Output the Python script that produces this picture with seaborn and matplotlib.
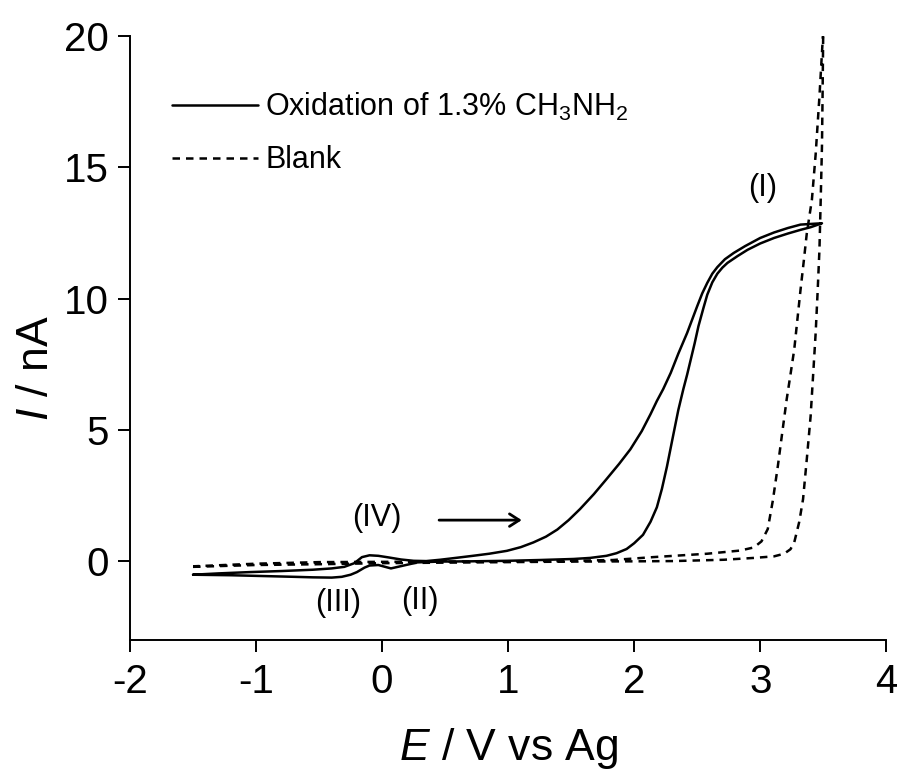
import matplotlib
matplotlib.use("Agg")
import matplotlib.pyplot as plt
from matplotlib import font_manager
import seaborn as sns

# CV of 1.3% CH3NH2, forward scan from -1.5 V then back
cv_E = [-1.50, -1.30, -1.05, -0.80, -0.55, -0.40, -0.30, -0.22, -0.16, -0.10,
        -0.03, 0.05, 0.15, 0.25, 0.35, 0.46, 0.60, 0.72, 0.85, 0.99,
        1.10, 1.20, 1.30, 1.39, 1.48, 1.57, 1.68, 1.78, 1.88, 1.97,
        2.06, 2.13, 2.18, 2.23, 2.29, 2.35, 2.42, 2.46, 2.50, 2.54,
        2.58, 2.62, 2.66, 2.72, 2.79, 2.88, 3.00, 3.11, 3.22, 3.32,
        3.42, 3.49,
        3.40, 3.32, 3.22, 3.11, 3.00, 2.90, 2.82, 2.74, 2.70, 2.66,
        2.62, 2.58, 2.55, 2.51, 2.48, 2.45, 2.42, 2.39, 2.35, 2.31,
        2.26, 2.22, 2.18, 2.13, 2.07, 2.00, 1.94, 1.86, 1.78, 1.65,
        1.52, 1.25, 0.99, 0.70, 0.45, 0.28, 0.18, 0.07, -0.03, -0.10,
        -0.14, -0.20, -0.25, -0.32, -0.40, -0.55, -0.70, -0.95, -1.20, -1.50]
cv_I = [-0.52, -0.47, -0.42, -0.38, -0.33, -0.28, -0.22, -0.08, 0.15, 0.22,
        0.20, 0.14, 0.06, 0.01, 0.00, 0.05, 0.13, 0.20, 0.28, 0.39,
        0.53, 0.71, 0.93, 1.20, 1.56, 1.98, 2.55, 3.12, 3.70, 4.26,
        4.95, 5.60, 6.10, 6.55, 7.17, 7.90, 8.69, 9.20, 9.71, 10.20,
        10.60, 10.95, 11.20, 11.50, 11.74, 12.00, 12.31, 12.52, 12.69, 12.82,
        12.85, 12.87,
        12.72, 12.62, 12.48, 12.31, 12.10, 11.86, 11.62, 11.36, 11.18, 10.95,
        10.62, 10.15, 9.65, 8.95, 8.30, 7.70, 7.10, 6.55, 5.75, 4.80,
        3.60, 2.75, 2.05, 1.50, 1.00, 0.68, 0.46, 0.30, 0.20, 0.12,
        0.08, 0.04, 0.01, -0.01, -0.02, -0.05, -0.16, -0.28, -0.15, -0.17,
        -0.25, -0.42, -0.52, -0.60, -0.63, -0.62, -0.60, -0.57, -0.54, -0.52]

# blank scan
blank_E = [-1.50, -1.00, -0.50, 0.00, 0.50, 1.00, 1.50, 2.00, 2.31, 2.71,
           2.95, 3.11, 3.19, 3.24, 3.27, 3.31, 3.34, 3.37, 3.40, 3.42,
           3.44, 3.455, 3.47, 3.48, 3.49, 3.495, 3.50,
           3.47, 3.44, 3.41, 3.37, 3.345, 3.32, 3.295, 3.27, 3.24,
           3.21, 3.175, 3.14, 3.10, 3.06, 3.01, 2.95, 2.84, 2.58, 2.15,
           1.83, 1.40, 1.00, 0.50, 0.00, -0.50, -1.00, -1.50]
blank_I = [-0.22, -0.15, -0.12, -0.08, -0.06, -0.04, -0.02, -0.01, 0.00, 0.05,
           0.12, 0.18, 0.28, 0.45, 0.71, 1.50, 2.36, 3.90, 5.52, 7.10,
           8.69, 10.20, 11.86, 13.76, 15.80, 17.80, 20.20,
           17.70, 15.50, 13.76, 12.50, 11.40, 10.34, 9.20, 8.06, 7.10,
           6.16, 4.90, 3.62, 2.30, 1.22, 0.75, 0.52, 0.40, 0.28, 0.15,
           0.04, 0.00, -0.01, -0.02, -0.03, -0.04, -0.10, -0.20]

peak_labels = ["(I)", "(II)", "(III)", "(IV)"]
peak_E = [3.02, 0.30, -0.35, -0.04]
peak_I = [14.2, -1.52, -1.60, 1.63]

x_ticks = [-2, -1, 0, 1, 2, 3, 4]
y_ticks = [0, 5, 10, 15, 20]

sns.set_style("ticks")
names = {f.name for f in font_manager.fontManager.ttflist}
fam = "Liberation Sans Narrow" if "Liberation Sans Narrow" in names else "Liberation Sans"
plt.rcParams["font.family"] = [fam, "DejaVu Sans"]
plt.rcParams["mathtext.fontset"] = "custom"
plt.rcParams["mathtext.rm"] = fam
plt.rcParams["mathtext.it"] = fam + ":italic"
plt.rcParams["axes.unicode_minus"] = False
for k in ["text.color", "axes.labelcolor", "xtick.color", "ytick.color", "axes.edgecolor"]:
    plt.rcParams[k] = "black"

fig = plt.figure(figsize=(8.97, 7.69), dpi=100)
ax = fig.add_axes([0.145, 0.168, 0.843, 0.785])

sns.lineplot(x=cv_E, y=cv_I, sort=False, estimator=None, color="black",
             lw=1.8, label=r"Oxidation of 1.3% CH$_3$NH$_2$", ax=ax)
sns.lineplot(x=blank_E, y=blank_I, sort=False, estimator=None, color="black",
             lw=1.8, linestyle=(0, (3, 2.4)), label="Blank", ax=ax)

for lab, e, i in zip(peak_labels, peak_E, peak_I):
    ax.text(e, i, lab, fontsize=22, ha="center", va="center")

ax.annotate("", xy=(1.13, 1.56), xytext=(0.43, 1.56),
            arrowprops=dict(arrowstyle="->,head_length=0.7,head_width=0.45",
                            color="black", lw=2))

ax.set_xlim(-2, 4)
ax.set_ylim(-3, 20)
ax.set_xticks(x_ticks)
ax.set_yticks(y_ticks)
ax.tick_params(labelsize=29, length=8.6, width=1.4, direction="out",
               color="black", labelcolor="black")
ax.tick_params(axis="x", pad=8)
ax.tick_params(axis="y", pad=7)
for s in ["left", "bottom"]:
    ax.spines[s].set_linewidth(1.4)
    ax.spines[s].set_color("black")
sns.despine(ax=ax)

ax.set_xlabel(r"$E$ / V vs Ag", fontsize=32)
ax.set_ylabel(r"$I$ / nA", fontsize=32)
ax.xaxis.set_label_coords(0.5, -0.142)
ax.yaxis.set_label_coords(-0.097, 0.45)

leg = ax.legend(frameon=False, loc="upper left", bbox_to_anchor=(0.0556, 0.91),
                fontsize=22, handlelength=2.8, handletextpad=0.25,
                labelspacing=0.75, borderpad=0, borderaxespad=0)
for h in leg.get_lines():
    h.set_linewidth(1.8)

fig.savefig("out.png", dpi=100)
